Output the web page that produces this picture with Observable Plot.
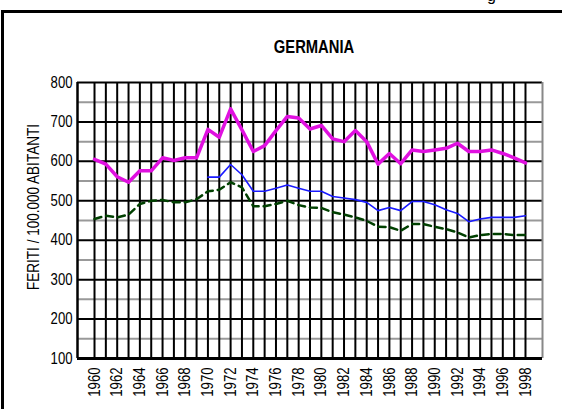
<!DOCTYPE html>
<html>
<head>
<meta charset="utf-8">
<script src="https://cdn.jsdelivr.net/npm/d3@7"></script>
<script src="https://cdn.jsdelivr.net/npm/@observablehq/plot@0.6"></script>
<style>
  html, body { margin: 0; padding: 0; background: #fff; }
  #wrap { position: relative; width: 562px; height: 409px; overflow: hidden; font-family: "Liberation Sans", Arial, sans-serif; }
  #frame { position: absolute; left: 1px; top: 10px; width: 600px; height: 500px; border-top: 3px solid #000; border-left: 3px solid #000; box-sizing: border-box; }
  #title { position: absolute; left: 314px; top: 47px; transform: translate(-50%, -50%) scaleX(0.82); font-weight: bold; font-size: 18px; color: #000; white-space: nowrap; }
  #ylabel { position: absolute; left: 33px; top: 207px; transform: translate(-50%, -50%) rotate(-90deg) scaleX(0.82); font-size: 16.5px; color: #000; white-space: nowrap; }
  #cut { position: absolute; left: 487px; top: -13px; font-size: 16px; color: #000; }
  #chart { position: absolute; left: 0; top: 0; }
</style>
</head>
<body>
<div id="wrap">
  <div id="frame"></div>
  <div id="cut">g</div>
  <div id="title">GERMANIA</div>
  <div id="ylabel">FERITI / 100.000 ABITANTI</div>
  <div id="chart"></div>
</div>
<script>
const years = d3.range(1960, 1999);
const xTickLabels = [1960,1962,1964,1966,1968,1970,1972,1974,1976,1978,1980,1982,1984,1986,1988,1990,1992,1994,1996,1998];
const yTickLabels = [100,200,300,400,500,600,700,800];

// magenta series 1960-1998
const seriesMagenta = [605,593,561,547,576,576,609,602,609,609,681,661,733,680,625,640,678,714,710,682,
                       691,657,650,678,650,593,620,594,629,625,629,633,646,625,625,629,620,609,596];
// blue series 1970-1998
const yearsBlue = d3.range(1970, 1999);
const seriesBlue = [560,560,592,566,524,524,532,540,532,524,
                    524,511,507,503,496,475,483,475,498,498,490,477,468,447,454,458,458,458,462];
// green dashed series 1960-1998
const seriesGreen = [454,462,458,465,492,500,502,496,496,504,524,528,547,534,486,486,492,500,489,483,
                     482,471,465,458,449,434,433,424,441,441,434,428,420,407,413,416,416,413,413];

const dMag = years.map((y, i) => ({year: y, value: seriesMagenta[i]}));
const dBlue = yearsBlue.map((y, i) => ({year: y, value: seriesBlue[i]}));
const dGreen = years.map((y, i) => ({year: y, value: seriesGreen[i]}));

const blackLines = yTickLabels;
const grayLines = d3.range(150, 800, 100);

const chart = Plot.plot({
  width: 562,
  height: 409,
  marginLeft: 77,
  marginRight: 20,
  marginTop: 82,
  marginBottom: 51,
  style: {fontFamily: '"Liberation Sans", Arial, sans-serif', fontSize: "16px", color: "#000", background: "transparent", overflow: "visible"},
  x: {domain: [1958.5, 1999.5], label: null},
  y: {domain: [100, 800], label: null},
  marks: [
    Plot.ruleY(grayLines, {stroke: "#999", strokeWidth: 2}),
    Plot.ruleX(years, {stroke: "#000", strokeWidth: 2}),
    Plot.ruleY(blackLines, {stroke: "#000", strokeWidth: 2}),
    Plot.ruleX([1999.5], {stroke: "#888", strokeWidth: 2}),
    Plot.ruleX([1958.5], {stroke: "#000", strokeWidth: 2.5}),
    Plot.ruleY([100], {stroke: "#000", strokeWidth: 3}),
    Plot.line(dGreen, {x: "year", y: "value", stroke: "#004000", strokeWidth: 2.5, strokeDasharray: "7,5"}),
    Plot.line(dBlue, {x: "year", y: "value", stroke: "#1a1aff", strokeWidth: 1.6}),
    Plot.line(dMag, {x: "year", y: "value", stroke: "#e010e0", strokeWidth: 3.5}),
    Plot.axisX({ticks: xTickLabels, tickFormat: d => String(d), tickRotate: -90, tickSize: 0, tickPadding: 9, label: null, fontSize: 16}),
    Plot.axisY({ticks: yTickLabels, tickSize: 0, tickPadding: 5, label: null, fontSize: 16})
  ]
});
document.getElementById("chart").appendChild(chart);
// condense tick labels to mimic a narrow typeface
chart.querySelectorAll("g[aria-label$='tick label'] text").forEach(t => {
  const L = t.getComputedTextLength();
  t.setAttribute("textLength", (L * 0.82).toFixed(2));
  t.setAttribute("lengthAdjust", "spacingAndGlyphs");
});
</script>
</body>
</html>
